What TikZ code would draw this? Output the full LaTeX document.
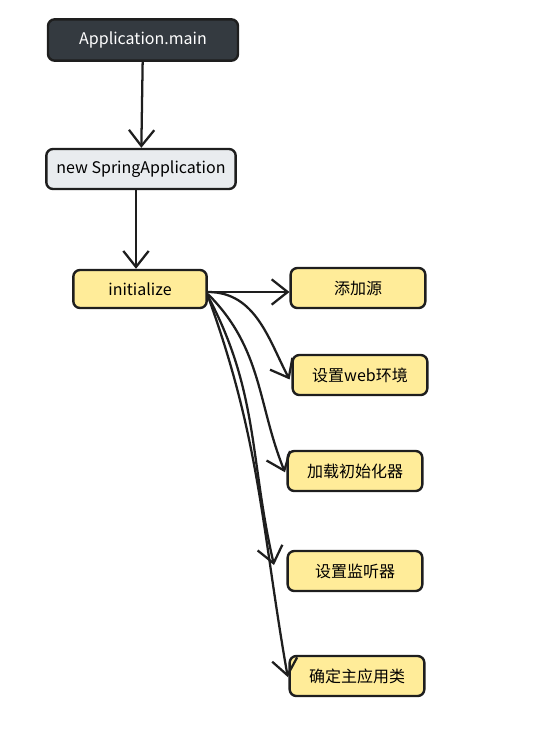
\documentclass[tikz,border=0pt]{standalone}
\usepackage{fontspec}
\setmainfont{Noto Sans CJK SC}
\usepackage{xcolor}
\usetikzlibrary{
    arrows.meta,
    positioning
}
\definecolor{inkdark}{HTML}{1E1E1E}
\definecolor{slatefill}{HTML}{343A40}
\definecolor{greyfill}{HTML}{E9ECEF}
\definecolor{sunfill}{HTML}{FFEC99}

\begin{document}
\begin{tikzpicture}[
x=0.75pt, y=0.75pt,
box/.style={
draw=inkdark,
line width=1.8pt,
rounded corners=5pt,
minimum width=101pt,
minimum height=30pt,
align=center,
font=\fontsize{12}{14}\selectfont
},
flow/.style={
-{Straight Barb[length=12pt,width=19pt,line width=1.7pt]},
line width=1.7pt,
draw=inkdark
}
]

\useasboundingbox (0,0) rectangle (558,-733);

\node[box, fill=slatefill, text=white, minimum width=142.5pt, minimum height=31pt]
(appmain) at (143,-40) {Application.main};

\node[box, fill=greyfill, minimum width=142pt]
(springapp) at (141,-169) {new SpringApplication};

\node[box, fill=sunfill, minimum width=100pt, minimum height=28.5pt]
(init) at (140,-289) {initialize};

\node[box, fill=sunfill] (addsrc) at (358,-288) {添加源};
\node[box, fill=sunfill] (webenv) at (360,-375) {设置web环境};
\node[box, fill=sunfill] (loadinit) at (355,-471) {加载初始化器};
\node[box, fill=sunfill] (listener) at (355,-571) {设置监听器};
\node[box, fill=sunfill] (mainclass) at (357,-676) {确定主应用类};

\draw[flow]
(appmain) -- (springapp);

\draw[flow]
(springapp.south -| 136,0) -- (init.north -| 136,0);

\draw[flow]
(init.east |- 0,-292) -- (addsrc.west |- 0,-292);

\draw[flow, shorten >=3pt]
(init.east |- 0,-292) to[out=0, in=118] (webenv.west |- 0,-383);

\draw[flow, shorten >=3pt]
(init.east |- 0,-294) to[out=-45, in=112] (loadinit.west |- 0,-476);

\draw[flow]
(init.east |- 0,-296) to[out=-62, in=103] (274,-565);

\draw[flow, shorten >=3pt]
(init.east |- 0,-296) to[out=-70, in=100] (mainclass.west |- 0,-681);

\end{tikzpicture}
\end{document}
